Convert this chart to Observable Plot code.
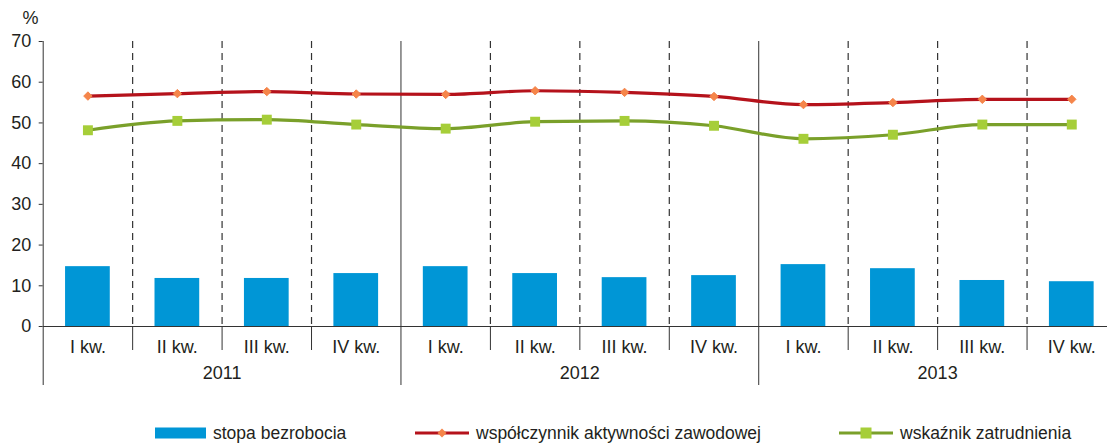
<!DOCTYPE html>
<html><head><meta charset="utf-8">
<script src="https://cdn.jsdelivr.net/npm/d3@7"></script>
<script src="https://cdn.jsdelivr.net/npm/@observablehq/plot@0.6"></script>
<style>
html,body{margin:0;padding:0;background:#fff;}
body{width:1107px;height:446px;overflow:hidden;font-family:"Liberation Sans",Arial,sans-serif;color:#231f20;}
#chart{position:relative;width:1107px;height:400px;}
#legend{position:relative;width:1107px;height:46px;font-size:17.5px;}
.item{position:absolute;top:22px;display:flex;align-items:center;height:22px;}
.item svg{margin-right:7px;}
</style>
</head><body>
<div id="chart"></div>
<div id="legend"></div>
<script>
const quarters = ["I kw.","II kw.","III kw.","IV kw."];
const years = ["2011","2012","2013"];
const unemployment = [14.7,11.8,11.8,13.0, 14.7,13.0,12.0,12.5, 15.2,14.2,11.3,11.0];
const activity = [56.6,57.2,57.7,57.1, 57.0,57.9,57.5,56.5, 54.5,55.0,55.8,55.8];
const employment = [48.2,50.5,50.8,49.6, 48.6,50.3,50.5,49.3, 46.1,47.1,49.6,49.6];
const yTicks = [0,10,20,30,40,50,60,70];
const seriesNames = ["stopa bezrobocia","współczynnik aktywności zawodowej","wskaźnik zatrudnienia"];
const colors = {bar:"#0096d6", red:"#b5121b", orange:"#f5854a", green:"#7aa02a", lime:"#a6ce39"};

const rows = [];
years.forEach((y, yi) => quarters.forEach((q, qi) => {
  const i = yi*4 + qi;
  rows.push({i, year:y, quarter:q, u:unemployment[i], a:activity[i], e:employment[i]});
}));
const quarterBounds = d3.range(1, 12).filter(b => b % 4 !== 0);
const yearBounds = [0, 4, 8, 12];
const yearCenters = years.map((y, k) => ({year:y, x:k*4+2}));
const ink = "#231f20";
const fs = 18;

const chart = Plot.plot({
  width: 1107, height: 400,
  marginLeft: 43, marginRight: 0, marginTop: 41, marginBottom: 74,
  style: {fontFamily: '"Liberation Sans", Arial, sans-serif', fontSize: fs + "px", color: ink, background: "#fff", overflow: "visible"},
  x: {type: "linear", domain: [0, 12], range: [42.7, 1116], axis: null},
  y: {type: "linear", domain: [0, 70], axis: null},
  marks: [
    Plot.rectY(rows, {x1: d => d.i + 0.25, x2: d => d.i + 0.75, y1: 0, y2: "u", fill: colors.bar}),
    Plot.ruleX(quarterBounds, {x: d => d, y1: 70, y2: 0, stroke: "#333", strokeWidth: 1.2, strokeDasharray: "7,5"}),
    Plot.ruleX(quarterBounds, {x: d => d, y1: 0, y2: 0, insetBottom: -24, stroke: "#333", strokeWidth: 1}),
    Plot.ruleX(yearBounds, {x: d => d, y1: 70, y2: 0, insetBottom: -59, stroke: "#333", strokeWidth: 1}),
    Plot.ruleY([0], {y: d => d, stroke: "#333", strokeWidth: 1}),
    Plot.ruleY(yTicks, {y: d => d, x1: 0, x2: 0, insetLeft: -4, stroke: "#333"}),
    Plot.text(yTicks, {y: d => d, x: 0, text: d => String(d), textAnchor: "end", dx: -12, fill: ink, fontSize: fs}),
    Plot.text(["%"], {frameAnchor: "top-left", dx: -13, dy: -30, fill: ink, fontSize: fs, textAnchor: "middle"}),
    Plot.text(rows, {x: d => d.i + 0.5, y: 0, text: "quarter", dy: 21, fill: ink, fontSize: fs}),
    Plot.text(yearCenters, {x: "x", y: 0, text: "year", dy: 47, fill: ink, fontSize: fs}),
    Plot.line(rows, {x: d => d.i + 0.5, y: "a", stroke: colors.red, strokeWidth: 3.2, curve: "monotone-x"}),
    Plot.dot(rows, {x: d => d.i + 0.5, y: "a", symbol: "diamond2", r: 3.8, fill: colors.orange, stroke: colors.orange, strokeWidth: 1}),
    Plot.line(rows, {x: d => d.i + 0.5, y: "e", stroke: colors.green, strokeWidth: 3.2, curve: "monotone-x"}),
    Plot.dot(rows, {x: d => d.i + 0.5, y: "e", symbol: "square", r: 5.6, fill: colors.lime})
  ]
});
document.getElementById("chart").appendChild(chart);

const legend = document.getElementById("legend");
const items = [
  {left:155, svg:`<svg width="51" height="12"><rect x="0" y="0.5" width="51" height="11" fill="${colors.bar}"/></svg>`},
  {left:415, svg:`<svg width="54" height="12"><line x1="0" y1="6" x2="54" y2="6" stroke="${colors.red}" stroke-width="3.2"/><path d="M27,1.5 L31.5,6 L27,10.5 L22.5,6Z" fill="${colors.orange}"/></svg>`},
  {left:839, svg:`<svg width="54" height="12"><line x1="0" y1="6" x2="54" y2="6" stroke="${colors.green}" stroke-width="3.2"/><rect x="21.5" y="0.5" width="11" height="11" fill="${colors.lime}"/></svg>`}
];
items.forEach((it, k) => {
  const d = document.createElement("div");
  d.className = "item";
  d.style.left = it.left + "px";
  d.innerHTML = it.svg + `<span>${seriesNames[k]}</span>`;
  legend.appendChild(d);
});
</script>
</body></html>
